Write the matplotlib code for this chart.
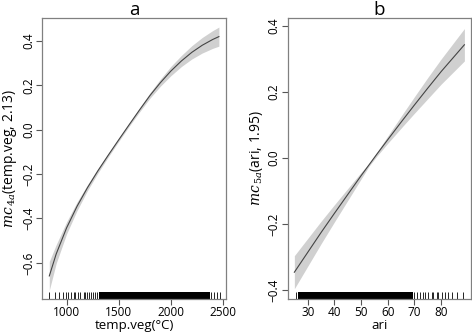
import matplotlib
matplotlib.use('Agg')
import matplotlib.pyplot as plt
import numpy as np

# panel a : temp.veg smooth
temp_veg = [834, 900, 1000, 1100, 1200, 1300, 1400, 1500, 1600, 1700, 1800,
            1900, 2000, 2100, 2200, 2300, 2400, 2460]
fit_a = [-0.659, -0.560, -0.442, -0.345, -0.261, -0.185, -0.114, -0.045, 0.023,
         0.090, 0.155, 0.213, 0.265, 0.310, 0.349, 0.381, 0.407, 0.420]
band_a = [0.065, 0.042, 0.027, 0.019, 0.013, 0.010, 0.008, 0.007, 0.007,
          0.009, 0.012, 0.016, 0.021, 0.025, 0.030, 0.035, 0.040, 0.043]
rug_a = [828, 893, 924, 962, 994, 1013, 1045, 1067, 1083, 1109, 1131, 1163, 1178,
         1195, 1217, 1236, 1250, 1269, 1291, 1307, 2389, 2411, 2443, 2469]
rug_a_dense = (1310, 2375)

# panel b : ari smooth
ari = [25, 30, 35, 40, 45, 50, 53, 56, 60, 65, 70, 75, 80, 88.7]
fit_b = [-0.345, -0.285, -0.225, -0.167, -0.110, -0.053, -0.020, 0.013, 0.056,
         0.109, 0.161, 0.212, 0.262, 0.343]
band_b = [0.050, 0.042, 0.034, 0.026, 0.018, 0.010, 0.004, 0.006, 0.011,
          0.018, 0.025, 0.032, 0.038, 0.049]
rug_b = [25.6, 70.0, 70.9, 72.1, 73.3, 74.0, 75.2, 76.5, 77.1, 78.4, 79.0,
         80.2, 81.5, 82.7, 84.0, 85.9, 88.3]
rug_b_dense = (26.4, 69.5)

box_col = '#808080'
plt.rcParams['font.family'] = ['Open Sans', 'DejaVu Sans']


def draw_panel(ax, x, fit, band, rug, dense, title, xlabel, ylabel):
    x = np.array(x)
    fit = np.array(fit)
    band = np.array(band)
    ax.fill_between(x, fit - band, fit + band, color='#d0d0d0', lw=0)
    ax.plot(x, fit, color='#444444', lw=0.8)
    trans = ax.get_xaxis_transform()
    ax.vlines(rug, 0, 0.025, transform=trans, color='black', lw=0.6)
    ax.fill_between(list(dense), 0, 0.025, transform=trans, color='black', lw=0)
    for s in ax.spines.values():
        s.set_color(box_col)
        s.set_linewidth(0.9)
    ax.tick_params(colors='black', length=4, width=0.8, labelsize=8.5, pad=1)
    ax.tick_params(axis='both', color='#555555')
    for lab in ax.get_yticklabels():
        lab.set_rotation(90)
        lab.set_va('center')
    ax.text(0.5, 1.011, title, transform=ax.transAxes, fontsize=13.5,
            ha='center', va='baseline')
    ax.set_xlabel(xlabel, fontsize=9.5, labelpad=0)
    ax.set_ylabel(ylabel, fontsize=10, labelpad=2)


def main():
    fig = plt.figure(figsize=(4.72, 3.32), dpi=100)
    plt.rcParams['mathtext.fontset'] = 'dejavuserif'
    ax1 = fig.add_axes([0.089, 0.0994, 0.390, 0.8464])
    ax1.set_xlim(764, 2529)
    ax1.set_ylim(-0.763, 0.504)
    ax1.set_xticks([1000, 1500, 2000, 2500])
    ax1.set_yticks([-0.6, -0.4, -0.2, 0.0, 0.2, 0.4])
    ax1.set_yticklabels(['\u22120.6', '\u22120.4', '\u22120.2', '0.0', '0.2', '0.4'])
    draw_panel(ax1, temp_veg, fit_a, band_a, rug_a, rug_a_dense, 'a',
               'temp.veg(\u00b0C)', r'$mc_{\,4a}$(temp.veg, 2.13)')

    ax2 = fig.add_axes([0.6095, 0.0994, 0.3885, 0.8464])
    ax2.set_xlim(22.5, 91.2)
    ax2.set_ylim(-0.426, 0.424)
    ax2.set_xticks([30, 40, 50, 60, 70, 80])
    ax2.set_yticks([-0.4, -0.2, 0.0, 0.2, 0.4])
    ax2.set_yticklabels(['\u22120.4', '\u22120.2', '0.0', '0.2', '0.4'])
    draw_panel(ax2, ari, fit_b, band_b, rug_b, rug_b_dense, 'b',
               'ari', r'$mc_{\,5a}$(ari, 1.95)')

    fig.savefig('out.png', dpi=100)
    return None


if __name__ == '__main__':
    main()
